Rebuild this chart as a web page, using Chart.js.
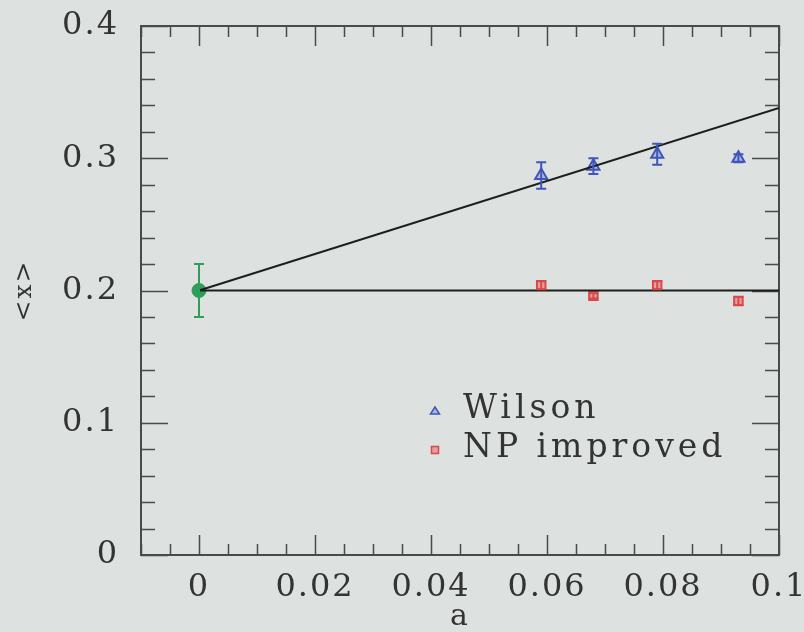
<!DOCTYPE html>
<html>
<head>
<meta charset="utf-8">
<script src="https://cdn.jsdelivr.net/npm/chart.js@4.4.1/dist/chart.umd.min.js"></script>
<style>
  html, body { margin: 0; padding: 0; background: #dde2e0; }
  #wrap { width: 804px; height: 632px; }
</style>
</head>
<body>
<div id="wrap"><canvas id="chart"></canvas></div>
<script>
// lattice spacing a and <x>
const wilsonA = [0.059, 0.068, 0.079, 0.093];
const wilsonX = [0.287, 0.294, 0.303, 0.300];
const wilsonErr = [0.010, 0.006, 0.008, 0.003];

const npA = [0.059, 0.068, 0.079, 0.093];
const npX = [0.204, 0.196, 0.204, 0.192];
const npErr = [0.003, 0.002, 0.003, 0.003];

// continuum value at a = 0
const contA = [0];
const contX = [0.2];
const contErr = [0.02];

// extrapolation lines
const fitA = [0, 0.1];
const fitFlat = [0.2, 0.2];
const fitSlope = [0.2, 0.338];

const xTicks = [0, 0.02, 0.04, 0.06, 0.08, 0.1];
const yTicks = [0, 0.1, 0.2, 0.3, 0.4];

const ink = '#333333';
const serif = 'DejaVu Serif';

function pts(xs, ys) {
    return xs.map((v, i) => ({ x: v, y: ys[i] }));
}

// slightly wide lettering like the original
const spacing = {
    id: 'spacing',
    beforeDraw(chart) { chart.ctx.letterSpacing = '2px'; },
    afterDraw(chart) { chart.ctx.letterSpacing = '0px'; }
};

// inward tick marks on all four sides
const frameTicks = {
    id: 'frameTicks',
    beforeDatasetsDraw(chart) {
        const { ctx, chartArea: ca, scales: { x, y } } = chart;
        ctx.save();
        ctx.strokeStyle = '#4a4a4a';
        ctx.lineWidth = 1.5;
        ctx.beginPath();
        for (let i = 0; i <= 22; i++) {
            const v = -0.01 + i * 0.005;
            const px = Math.round(x.getPixelForValue(v)) + 0.5;
            const major = Math.abs(v / 0.02 - Math.round(v / 0.02)) < 1e-6;
            const len = major ? 20 : 11;
            ctx.moveTo(px, ca.bottom); ctx.lineTo(px, ca.bottom - len);
            ctx.moveTo(px, ca.top); ctx.lineTo(px, ca.top + len);
        }
        for (let i = 0; i <= 20; i++) {
            const py = Math.round(y.getPixelForValue(i * 0.02)) + 0.5;
            const len = i % 5 === 0 ? 27 : 14;
            ctx.moveTo(ca.left, py); ctx.lineTo(ca.left + len, py);
            ctx.moveTo(ca.right, py); ctx.lineTo(ca.right - len, py);
        }
        ctx.stroke();
        ctx.restore();
    }
};

// vertical error bars with caps
const errorBars = {
    id: 'errorBars',
    afterDatasetsDraw(chart) {
        const { ctx, scales: { y } } = chart;
        ctx.save();
        chart.data.datasets.forEach((ds, i) => {
            if (!ds.errors) return;
            const meta = chart.getDatasetMeta(i);
            ctx.strokeStyle = ds.borderColor;
            ctx.lineWidth = 2;
            meta.data.forEach((p, j) => {
                const v = ds.data[j].y, e = ds.errors[j];
                const top = y.getPixelForValue(v + e);
                const bot = y.getPixelForValue(v - e);
                ctx.beginPath();
                ctx.moveTo(p.x, top); ctx.lineTo(p.x, bot);
                ctx.moveTo(p.x - 5, top); ctx.lineTo(p.x + 5, top);
                ctx.moveTo(p.x - 5, bot); ctx.lineTo(p.x + 5, bot);
                ctx.stroke();
            });
        });
        ctx.restore();
    }
};

// legend inside the plot
const innerLegend = {
    id: 'innerLegend',
    afterDraw(chart) {
        const ctx = chart.ctx;
        const items = chart.data.datasets.filter(ds => ds.inLegend);
        ctx.save();
        ctx.letterSpacing = '4px';
        ctx.font = '33px "' + serif + '"';
        ctx.textBaseline = 'alphabetic';
        items.forEach((ds, k) => {
            const yb = 418 + k * 39;
            const my = yb - 7;
            ctx.fillStyle = ink;
            ctx.fillText(ds.label, 463, yb);
            ctx.strokeStyle = ds.borderColor;
            ctx.fillStyle = ds.backgroundColor;
            ctx.lineWidth = 1.5;
            ctx.beginPath();
            if (ds.pointStyle === 'triangle') {
                ctx.moveTo(435, my - 4); ctx.lineTo(439.5, my + 3); ctx.lineTo(430.5, my + 3);
                ctx.closePath();
            } else {
                ctx.rect(431.5, my - 3.5, 7, 7);
            }
            ctx.fill(); ctx.stroke();
        });
        ctx.restore();
    }
};

new Chart('chart', {
    type: 'scatter',
    data: {
        datasets: [
            {
                label: 'fit flat',
                type: 'line',
                data: pts(fitA, fitFlat),
                borderColor: '#1e1e1e',
                borderWidth: 2,
                pointRadius: 0,
                fill: false
            },
            {
                label: 'fit slope',
                type: 'line',
                data: pts(fitA, fitSlope),
                borderColor: '#1e1e1e',
                borderWidth: 2,
                pointRadius: 0,
                fill: false
            },
            {
                label: 'Wilson',
                inLegend: true,
                data: pts(wilsonA, wilsonX),
                errors: wilsonErr,
                pointStyle: 'triangle',
                pointRadius: 7,
                borderWidth: 2,
                borderColor: '#3f55b8',
                backgroundColor: 'rgba(140,160,225,0.6)'
            },
            {
                label: 'NP improved',
                inLegend: true,
                data: pts(npA, npX),
                errors: npErr,
                pointStyle: 'rect',
                pointRadius: 6,
                borderWidth: 2,
                borderColor: '#d84a4a',
                backgroundColor: 'rgba(235,130,130,0.7)'
            },
            {
                label: 'continuum',
                data: pts(contA, contX),
                errors: contErr,
                pointStyle: 'circle',
                pointRadius: 7,
                borderWidth: 1,
                borderColor: '#2f9e58',
                backgroundColor: '#2f9e58'
            }
        ]
    },
    options: {
        responsive: true,
        maintainAspectRatio: false,
        animation: false,
        layout: { padding: { top: 26, right: 25, bottom: 0, left: 0 } },
        plugins: {
            legend: { display: false },
            tooltip: { enabled: false }
        },
        scales: {
            x: {
                type: 'linear',
                position: 'bottom',
                min: -0.01,
                max: 0.1,
                afterBuildTicks: s => { s.ticks = xTicks.map(v => ({ value: v })); },
                afterFit: s => { s.height = 77; s.paddingLeft = 0; s.paddingRight = 0; },
                grid: { display: false, drawTicks: false },
                border: { display: true, color: '#4a4a4a', width: 2 },
                ticks: {
                    padding: 13,
                    color: ink,
                    maxRotation: 0,
                    autoSkip: false,
                    font: { family: serif, size: 32 },
                    callback: v => String(v)
                },
                title: {
                    display: true,
                    text: 'a',
                    color: ink,
                    padding: 0,
                    font: { family: serif, size: 30, lineHeight: 1 }
                }
            },
            y: {
                type: 'linear',
                position: 'left',
                min: 0,
                max: 0.4,
                afterBuildTicks: s => { s.ticks = yTicks.map(v => ({ value: v })); },
                afterFit: s => { s.width = 141; s.paddingTop = 0; s.paddingBottom = 0; },
                grid: { display: false, drawTicks: false },
                border: { display: true, color: '#4a4a4a', width: 2 },
                ticks: {
                    padding: 22,
                    color: ink,
                    font: { family: serif, size: 32 },
                    callback: v => String(v)
                },
                title: {
                    display: true,
                    text: '<x>',
                    color: ink,
                    padding: { top: 12, bottom: 0 },
                    font: { family: serif, size: 25, lineHeight: 1 }
                }
            },
            x2: {
                type: 'linear',
                position: 'top',
                min: -0.01,
                max: 0.1,
                afterFit: s => { s.height = 0; s.paddingLeft = 0; s.paddingRight = 0; },
                grid: { display: false, drawTicks: false },
                border: { display: true, color: '#4a4a4a', width: 2 },
                ticks: { display: false }
            },
            y2: {
                type: 'linear',
                position: 'right',
                min: 0,
                max: 0.4,
                afterFit: s => { s.width = 0; s.paddingTop = 0; s.paddingBottom = 0; },
                grid: { display: false, drawTicks: false },
                border: { display: true, color: '#4a4a4a', width: 2 },
                ticks: { display: false }
            }
        }
    },
    plugins: [spacing, frameTicks, errorBars, innerLegend]
});
</script>
</body>
</html>
